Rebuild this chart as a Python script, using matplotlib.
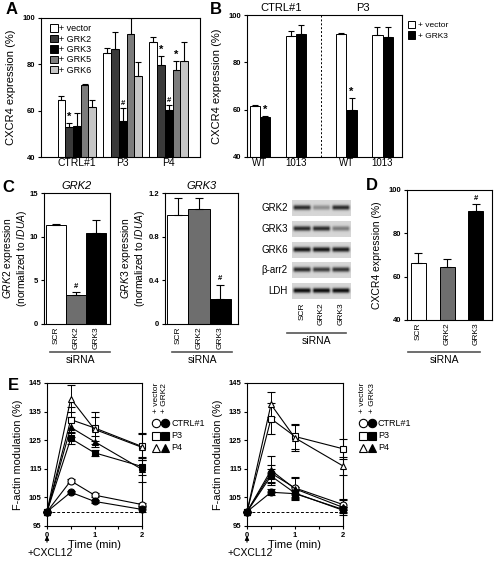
import numpy as np
import matplotlib
matplotlib.use('Agg')
import matplotlib.pyplot as plt
from matplotlib.patches import Patch

plt.rcParams['font.family'] = 'Liberation Sans'
plt.rcParams['mathtext.fontset'] = 'custom'
plt.rcParams['mathtext.rm'] = 'Liberation Sans'
plt.rcParams['mathtext.it'] = 'Liberation Sans:italic'
plt.rcParams['axes.linewidth'] = 0.8

W, H = 497, 562

# ---------------- data ----------------
# panel A
a_groups = ['CTRL#1', 'P3', 'P4']
a_series = ['+ vector', '+ GRK2', '+ GRK3', '+ GRK5', '+ GRK6']
a_colors = ['white', '#3a3a3a', 'black', '#7c7c7c', '#c6c6c6']
a_vals = [[64.5, 85, 89.5],
          [53, 86.5, 79.5],
          [53.5, 55.5, 60.5],
          [71, 93, 77.5],
          [61.5, 75, 81.5]]
a_errs = [[2, 2, 2.5],
          [1.8, 7.5, 4],
          [5.5, 5.5, 2],
          [0.3, 7, 4],
          [3, 6, 8]]
a_marks = [['', '', ''], ['*', '', '*'], ['', '#', '#'], ['', '', '*'], ['', '', '']]

# panel B
b_titles = ['CTRL#1', 'P3']
b_ticks = ['WT', '1013', 'WT', '1013']
b_vector = [61.7, 91.1, 91.8, 91.4]
b_vector_err = [0.3, 2.3, 0.5, 3.4]
b_grk3 = [56.8, 92, 59.9, 90.6]
b_grk3_err = [0.5, 3.8, 5.2, 4.5]
b_marks = ['*', '', '*', '']

# panel C
c_labels = ['SCR', 'GRK2', 'GRK3']
c_colors = ['white', '#6e6e6e', 'black']
c_grk2 = [11.3, 3.3, 10.4]
c_grk2_err = [0.1, 0.35, 1.5]
c_grk3 = [1.0, 1.05, 0.23]
c_grk3_err = [0.15, 0.1, 0.13]

# western blot band densities (SCR, GRK2, GRK3 siRNA)
blot_rows = ['GRK2', 'GRK3', 'GRK6', 'β-arr2', 'LDH']
blot_dens = [[0.85, 0.35, 0.85],
             [0.85, 0.85, 0.45],
             [0.95, 0.95, 0.92],
             [0.85, 0.75, 0.8],
             [1.0, 1.0, 1.0]]

# panel D
d_vals = [66.2, 64.3, 90.3]
d_errs = [4.6, 4.0, 3.3]

# panel E
e_time = [0, 0.5, 1, 2]
e_names = ['CTRL#1', 'P3', 'P4']
e_markers = ['o', 's', '^']
e1_vec = [[100, 110.8, 105.8, 102.5],
          [100, 132.2, 129.3, 122.8],
          [100, 139.5, 128.8, 122.5]]
e1_vec_err = [[0, 0.6, 0.6, 0.6],
              [0, 4.5, 5.5, 4.8],
              [0, 4.7, 4.2, 4.5]]
e1_grk = [[100, 106.8, 103.6, 100.8],
          [100, 125.6, 120.6, 115.8],
          [100, 129.5, 124.5, 114.8]]
e1_grk_err = [[0, 0.5, 0.5, 0.8],
              [0, 2, 1, 3],
              [0, 3.5, 2, 4.5]]
e2_vec = [[100, 113.5, 108.3, 102.5],
          [100, 132.5, 126.3, 122],
          [100, 137.5, 125.8, 116]]
e2_vec_err = [[0, 3, 3.5, 2],
              [0, 5.5, 4.5, 3.5],
              [0, 4.5, 4.5, 3]]
e2_grk = [[100, 106.8, 106.3, 100.8],
          [100, 112.5, 106.5, 100.5],
          [100, 114.5, 108, 101.5]]
e2_grk_err = [[0, 1, 1, 1],
              [0, 2.5, 2, 1],
              [0, 5, 4, 2.5]]


# ---------------- helpers ----------------
fig = plt.figure(figsize=(W / 100, H / 100), dpi=100)


def px_axes(x0, y0, x1, y1):
    return fig.add_axes([x0 / W, 1 - y1 / H, (x1 - x0) / W, (y1 - y0) / H])


def style_bar_axes(ax, yticks, fmt='%g'):
    ax.set_yticks(yticks)
    ax.set_yticklabels([fmt % t for t in yticks], fontweight='bold', fontsize=5.5)
    ax.tick_params(axis='y', direction='out', length=2.5, width=0.8, pad=1.5)
    ax.tick_params(axis='x', length=0)


def err_up(ax, x, y, e, cap=2.5):
    ax.errorbar(x, y, yerr=[np.zeros(len(np.atleast_1d(e))), e], fmt='none',
                ecolor='black', elinewidth=0.8, capsize=cap, capthick=0.8)


ov = fig.add_axes([0, 0, 1, 1])
ov.set_xlim(0, W)
ov.set_ylim(H, 0)
ov.axis('off')
ov.set_zorder(10)

# ---------------- A ----------------
axA = px_axes(41, 18, 200, 157)
bw = 0.168
gx = np.arange(len(a_groups))
for i, (vals, errs, col, lab) in enumerate(zip(a_vals, a_errs, a_colors, a_series)):
    xs = gx + (i - 2) * bw
    axA.bar(xs, vals, bw, color=col, edgecolor='black', linewidth=0.7, label=lab)
    err_up(axA, xs, vals, errs, cap=2)
    for x, v, e, m in zip(xs, vals, errs, a_marks[i]):
        if m:
            axA.text(x, v + e + 0.5, m, ha='center', va='bottom',
                     fontsize=8 if m == '*' else 5.5, fontweight='bold')
axA.set_xlim(-0.78, 2.68)
axA.set_ylim(40, 100)
style_bar_axes(axA, [40, 60, 80, 100])
axA.set_xticks(gx)
axA.set_xticklabels(a_groups, fontsize=7.5)
axA.tick_params(axis='x', pad=1)
axA.set_ylabel('CXCR4 expression (%)', fontsize=8, labelpad=5)
hA = [Patch(facecolor=c, edgecolor='black', linewidth=0.7) for c in a_colors]
axA.legend(hA, a_series, loc='upper left', bbox_to_anchor=(0.02, 1.0), frameon=False,
           fontsize=6.5, handlelength=0.8, handleheight=0.9, handletextpad=0.15,
           labelspacing=0.15, borderpad=0.2)

# ---------------- B ----------------
axB = px_axes(247, 15, 402, 157)
b_pos = np.array([0, 1, 2.4, 3.4])
bw2 = 0.28
axB.bar(b_pos - bw2 / 2, b_vector, bw2, color='white', edgecolor='black', linewidth=0.7)
axB.bar(b_pos + bw2 / 2, b_grk3, bw2, color='black', edgecolor='black', linewidth=0.7)
err_up(axB, b_pos - bw2 / 2, b_vector, b_vector_err)
err_up(axB, b_pos + bw2 / 2, b_grk3, b_grk3_err)
for x, v, e, m in zip(b_pos + bw2 / 2, b_grk3, b_grk3_err, b_marks):
    if m:
        axB.text(x, v + e + 0.5, m, ha='center', va='bottom', fontsize=8, fontweight='bold')
axB.axvline(1.69, color='black', ls=(0, (2, 2)), lw=0.7)
axB.set_xlim(-0.36, 3.94)
axB.set_ylim(40, 100)
style_bar_axes(axB, [40, 60, 80, 100])
axB.set_xticks(b_pos)
axB.set_xticklabels(b_ticks, fontsize=7)
axB.tick_params(axis='x', pad=1)
axB.set_ylabel('CXCR4 expression (%)', fontsize=8, labelpad=5)
for x, t in zip([0.6, 2.85], b_titles):
    axB.text(x, 1.015, t, transform=axB.get_xaxis_transform(), ha='center', va='bottom', fontsize=8)
hB = [Patch(facecolor='white', edgecolor='black', linewidth=0.7),
      Patch(facecolor='black', edgecolor='black', linewidth=0.7)]
axB.legend(hB, ['+ vector', '+ GRK3'], loc='upper left', bbox_to_anchor=(1.0, 1.0),
           frameon=False, fontsize=6, handlelength=0.9, handleheight=1.0,
           handletextpad=0.3, labelspacing=0.2, borderpad=0.2)

# ---------------- C ----------------
def c_panel(ax, vals, errs, yticks, fmt, title, gene, mark_idx):
    x = np.arange(3)
    ax.bar(x, vals, 1.0, color=c_colors, edgecolor='black', linewidth=0.7)
    err_up(ax, x, vals, errs, cap=3)
    i = mark_idx
    ax.text(x[i], vals[i] + errs[i] + 0.02 * yticks[-1], '#', ha='center', va='bottom',
            fontsize=5.5, fontweight='bold')
    ax.set_ylim(0, yticks[-1])
    style_bar_axes(ax, yticks, fmt)
    ax.set_xticks(x)
    ax.set_xticklabels(c_labels, rotation=90, fontsize=6)
    ax.tick_params(axis='x', pad=2)
    ax.set_title(title, fontsize=8, style='italic', pad=3)
    ax.set_ylabel(r'$\mathit{%s}$ expression' % gene + '\n' + r'(normalized to $\mathit{IDUA}$)',
                  fontsize=7.4, labelpad=1, linespacing=1.0)


axC1 = px_axes(44, 193, 110, 324)
c_panel(axC1, c_grk2, c_grk2_err, [0, 5, 10, 15], '%g', 'GRK2', 'GRK2', 1)
axC1.set_xlim(-0.6, 2.7)
axC2 = px_axes(165, 193, 238, 324)
c_panel(axC2, c_grk3, c_grk3_err, [0, 0.4, 0.8, 1.2], '%.1f', 'GRK3', 'GRK3', 2)
axC2.set_xlim(-0.6, 2.83)
axC2.set_yticklabels(['0', '0.4', '0.8', '1.2'], fontweight='bold', fontsize=5.5)

# ---------------- blot ----------------
strip_y = [208, 229, 250, 270, 291]
nx, ny = 80, 20
gx_b = np.linspace(0, 1, nx)
gy_b = np.linspace(-1, 1, ny)
for name, dens, yc in zip(blot_rows, blot_dens, strip_y):
    axb = px_axes(292, yc - 8.5, 351, yc + 8.5)
    img = np.full((ny, nx), 0.84)
    for i, d in enumerate(dens):
        cx = (i + 0.5) / 3
        prof_x = np.clip((0.17 - np.abs(gx_b - cx)) / 0.05, 0, 1)
        prof_y = np.exp(-(gy_b / 0.3) ** 2)
        img = img - 0.8 * d * np.outer(prof_y, prof_x)
    axb.imshow(img, cmap='gray', vmin=0, vmax=1, aspect='auto', extent=(0, 1, 0, 1),
               interpolation='bilinear')
    axb.set_xticks([])
    axb.set_yticks([])
    for s in axb.spines.values():
        s.set_visible(False)
    ov.text(288, yc, name, ha='right', va='center', fontsize=7)
for i, lab in enumerate(c_labels):
    ov.text(292 + (i + 0.5) * 59 / 3, 302, lab, rotation=90, ha='center', va='top', fontsize=6)

# ---------------- D ----------------
axD = px_axes(407, 190, 492, 320)
xd = np.arange(3)
axD.bar(xd, d_vals, 0.52, color=c_colors, edgecolor='black', linewidth=0.7)
err_up(axD, xd, d_vals, d_errs, cap=3)
axD.text(xd[2], d_vals[2] + d_errs[2] + 0.8, '#', ha='center', va='bottom', fontsize=5.5,
         fontweight='bold')
axD.set_xlim(-0.4, 2.56)
axD.set_ylim(40, 100)
style_bar_axes(axD, [40, 60, 80, 100])
axD.set_xticks(xd)
axD.set_xticklabels(c_labels, rotation=90, fontsize=6)
axD.tick_params(axis='x', pad=2)
axD.set_ylabel('CXCR4 expression (%)', fontsize=7.5, labelpad=5)

# siRNA underlines
for x0, x1, y in [(50, 110, 352), (172, 232, 352), (287, 346, 333), (408, 480, 352)]:
    ov.plot([x0, x1], [y, y], color='#555555', lw=1.2)
    ov.text((x0 + x1) / 2, y + 3, 'siRNA', ha='center', va='top', fontsize=7.5)

# ---------------- E ----------------
def e_panel(ax, vec, vec_err, grk, grk_err):
    ax.axhline(100, color='black', ls=(0, (3, 2)), lw=0.7)
    for k in range(3):
        for ys, es, fc in [(vec, vec_err, 'white'), (grk, grk_err, 'black')]:
            ax.errorbar(e_time, ys[k], yerr=es[k], color='black', lw=0.8, elinewidth=0.7,
                        capsize=3, capthick=0.7, marker=e_markers[k], ms=5,
                        mfc=fc, mec='black', mew=0.8, clip_on=False, zorder=3)
    ax.set_xlim(0, 2)
    ax.set_ylim(95, 145)
    ax.set_yticks([95, 105, 115, 125, 135, 145])
    ax.set_yticklabels(['95', '105', '115', '125', '135', '145'], fontweight='bold', fontsize=5.5)
    ax.set_xticks([0, 1, 2])
    ax.set_xticks([0.5, 1.5], minor=True)
    ax.set_xticklabels(['0', '1', '2'], fontweight='bold', fontsize=5.5)
    ax.tick_params(which='both', direction='out', length=2.5, width=0.8, pad=1.5)
    ax.set_xlabel('Time (min)', fontsize=8, labelpad=1)
    ax.set_ylabel('F-actin modulation (%)', fontsize=7.8, labelpad=4)


axE1 = px_axes(47, 383, 142, 526)
e_panel(axE1, e1_vec, e1_vec_err, e1_grk, e1_grk_err)
axE2 = px_axes(247, 383, 343, 526)
e_panel(axE2, e2_vec, e2_vec_err, e2_grk, e2_grk_err)

# legends for E
for x0, grk in [(156, '+ GRK2'), (363, '+ GRK3')]:
    ov.text(x0, 413, '+ vector', rotation=90, ha='center', va='bottom', fontsize=6)
    ov.text(x0 + 9, 413, grk, rotation=90, ha='center', va='bottom', fontsize=6)
    for k, yr in enumerate([423, 436, 448]):
        ov.plot([x0], [yr], marker=e_markers[k], ms=6, mfc='white', mec='black', mew=0.8)
        ov.plot([x0 + 9], [yr], marker=e_markers[k], ms=6, mfc='black', mec='black', mew=0.8)
        ov.text(x0 + 15, yr, e_names[k], ha='left', va='center', fontsize=6.5)

# +CXCL12 arrows
for xa in [47, 247]:
    ov.annotate('', xy=(xa, 533), xytext=(xa, 545),
                arrowprops=dict(arrowstyle='-|>', color='black', lw=0.8, mutation_scale=6))
    ov.text(xa + 3, 553, '+CXCL12', ha='center', va='center', fontsize=7.5)

# panel letters
for lab, x, y in [('A', 12, 10), ('B', 216, 10), ('C', 8, 187), ('D', 372, 186), ('E', 13, 385)]:
    ov.text(x, y, lab, ha='center', va='center', fontsize=12, fontweight='bold')

fig.savefig('out.png', dpi=100)
